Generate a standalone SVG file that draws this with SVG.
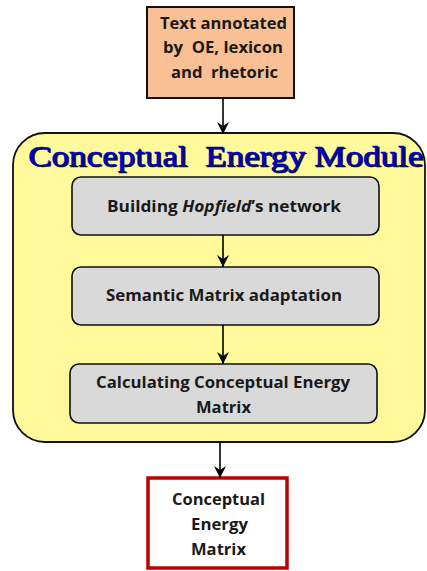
<svg xmlns="http://www.w3.org/2000/svg" width="427" height="571" viewBox="0 0 427 571">
  <defs>
    <marker id="arrow" markerWidth="14" markerHeight="14" refX="12" refY="7" orient="auto" markerUnits="userSpaceOnUse">
      <path d="M0,1 L12,7 L0,13 L4,7 Z" fill="#000"/>
    </marker>
    <style>
      text { white-space: pre; }
      .lbl { font-family: "Open Sans", Lato, "Liberation Sans", sans-serif; font-weight: bold; font-size: 16.5px; fill: #1a1a1a; text-anchor: middle; }
      .step { fill: #d9d9d9; stroke: #111; stroke-width: 1.6; }
      .conn { stroke: #000; stroke-width: 1.6; fill: none; marker-end: url(#arrow); }
      .title { font-family: "Liberation Serif", "Times New Roman", serif; font-size: 30px; }
    </style>
  </defs>

  <rect width="427" height="571" fill="#fff"/>

  <!-- input -->
  <g id="input">
    <rect x="147" y="7" width="147" height="91" fill="#f9bf95" stroke="#111" stroke-width="2"/>
    <text class="lbl" x="223.5" y="29" textLength="127" lengthAdjust="spacingAndGlyphs">Text annotated</text>
    <text class="lbl" x="223" y="53" textLength="120" lengthAdjust="spacingAndGlyphs">by  OE, lexicon</text>
    <text class="lbl" x="224.5" y="78" textLength="107" lengthAdjust="spacingAndGlyphs">and  rhetoric</text>
  </g>

  <!-- module container -->
  <g id="module">
    <rect x="13" y="133" width="412" height="309" rx="32" ry="32" fill="#fefa9c" stroke="#111" stroke-width="1.8"/>
    <text class="title" x="29.2" y="167.2" textLength="395" lengthAdjust="spacingAndGlyphs" fill="#111" stroke="#111" stroke-width="0.6">Conceptual  Energy Module</text>
    <text class="title" x="28" y="166" textLength="395" lengthAdjust="spacingAndGlyphs" fill="#0000c8" stroke="#0000c8" stroke-width="0.3">Conceptual  Energy Module</text>
  </g>

  <g id="hopfield">
    <rect class="step" x="72" y="177" width="307" height="58" rx="9" ry="9"/>
    <text class="lbl" x="224" y="212" textLength="234" lengthAdjust="spacingAndGlyphs">Building <tspan font-style="italic">Hopfield</tspan>’s network</text>
  </g>

  <g id="semantic">
    <rect class="step" x="72" y="267" width="307" height="58" rx="9" ry="9"/>
    <text class="lbl" x="224" y="301" textLength="236" lengthAdjust="spacingAndGlyphs">Semantic Matrix adaptation</text>
  </g>

  <g id="calculating">
    <rect class="step" x="70" y="364" width="307" height="59" rx="9" ry="9"/>
    <text class="lbl" x="223" y="388" textLength="254" lengthAdjust="spacingAndGlyphs">Calculating Conceptual Energy</text>
    <text class="lbl" x="223.5" y="413" textLength="55" lengthAdjust="spacingAndGlyphs">Matrix</text>
  </g>

  <!-- output -->
  <g id="output">
    <rect x="148" y="478" width="139" height="90" fill="#fff" stroke="#c00000" stroke-width="3.5"/>
    <text class="lbl" x="218.5" y="505" textLength="93" lengthAdjust="spacingAndGlyphs">Conceptual</text>
    <text class="lbl" x="219.5" y="530" textLength="57" lengthAdjust="spacingAndGlyphs">Energy</text>
    <text class="lbl" x="218.5" y="555" textLength="55" lengthAdjust="spacingAndGlyphs">Matrix</text>
  </g>

  <!-- connectors -->
  <g id="connectors">
    <line class="conn" x1="223" y1="98" x2="223" y2="134"/>
    <line class="conn" x1="223" y1="235" x2="223" y2="267"/>
    <line class="conn" x1="223" y1="325" x2="223" y2="364"/>
    <line class="conn" x1="220" y1="442" x2="220" y2="478"/>
  </g>
</svg>
